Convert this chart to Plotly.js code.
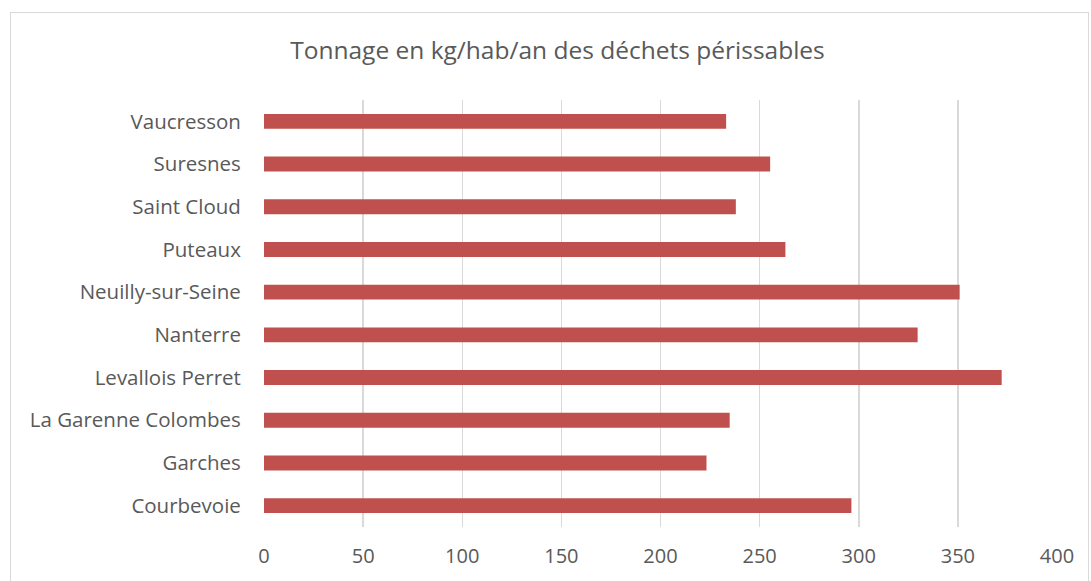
<!DOCTYPE html>
<html>
<head>
<meta charset="utf-8">
<script src="https://cdn.plot.ly/plotly-3.0.1.min.js"></script>
<style>
  html, body { margin: 0; padding: 0; background: #ffffff; }
  #frame { position: absolute; left: 10px; top: 12px; width: 1079px; height: 600px; border: 1px solid #d9d9d9; box-sizing: border-box; }
  #chart { position: absolute; left: 0; top: 0; width: 1091px; height: 581px; }
</style>
</head>
<body>
<div id="frame"></div>
<div id="chart"></div>
<script>
const categories = ["Courbevoie", "Garches", "La Garenne Colombes", "Levallois Perret", "Nanterre",
                    "Neuilly-sur-Seine", "Puteaux", "Saint Cloud", "Suresnes", "Vaucresson"];
const values = [296.3, 223.2, 234.9, 372.1, 329.7, 350.9, 263.0, 238.0, 255.3, 233.1];
const xTicks = [0, 50, 100, 150, 200, 250, 300, 350, 400];
const titleText = "Tonnage en kg/hab/an des déchets périssables";

const trace = {
  type: "bar",
  orientation: "h",
  y: categories,
  x: values,
  width: 0.35,
  marker: { color: "#c0504d", line: { width: 0 } },
  hoverinfo: "x+y"
};

const FONT = "'Open Sans', Lato, sans-serif";

const layout = {
  width: 1091,
  height: 581,
  paper_bgcolor: "rgba(0,0,0,0)",
  plot_bgcolor: "rgba(0,0,0,0)",
  margin: { l: 264, r: 34, t: 100, b: 54 },
  showlegend: false,
  font: { family: FONT, color: "#595959", size: 20 },
  title: {
    text: titleText,
    x: 0.511, xanchor: "center",
    y: 0.914, yanchor: "middle",
    font: { size: 24.5, color: "#595959", family: FONT }
  },
  xaxis: {
    range: [0, 400],
    tickvals: xTicks,
    ticktext: xTicks.map(String),
    showgrid: true,
    gridcolor: "#d9d9d9",
    gridwidth: 1.5,
    zeroline: false,
    showline: false,
    ticks: "outside",
    ticklen: 11,
    tickcolor: "rgba(0,0,0,0)",
    tickfont: { size: 20, color: "#595959", family: FONT },
    fixedrange: true
  },
  yaxis: {
    type: "category",
    categoryorder: "array",
    categoryarray: categories,
    range: [-0.5, 9.5],
    showgrid: false,
    zeroline: false,
    showline: false,
    ticks: "outside",
    ticklen: 18,
    tickcolor: "rgba(0,0,0,0)",
    tickfont: { size: 20.5, color: "#595959", family: FONT },
    fixedrange: true
  },
  bargap: 0.65
};

Plotly.newPlot("chart", [trace], layout, { displayModeBar: false, staticPlot: true });
</script>
</body>
</html>
